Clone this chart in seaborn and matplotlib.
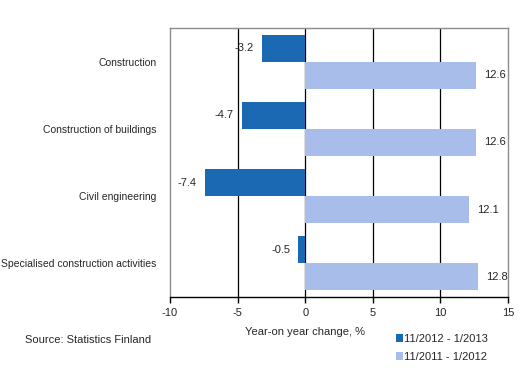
import pandas as pd
import numpy as np
import matplotlib
matplotlib.use('Agg')
import matplotlib.pyplot as plt
import seaborn as sns

# data
categories = ['Construction', 'Construction of buildings', 'Civil engineering',
              'Specialised construction activities']
series_names = ['11/2012 - 1/2013', '11/2011 - 1/2012']
recent = [-3.2, -4.7, -7.4, -0.5]
previous = [12.6, 12.6, 12.1, 12.8]
xticks = [-10, -5, 0, 5, 10, 15]

df = pd.DataFrame({
    'category': categories * 2,
    'period': [series_names[0]] * 4 + [series_names[1]] * 4,
    'change': recent + previous,
})

sns.set_style('white')
plt.rcParams['font.family'] = ['Liberation Sans', 'DejaVu Sans']
plt.rcParams['font.size'] = 8

fig = plt.figure(figsize=(5.28, 3.8), dpi=100)
ax = fig.add_axes([170 / 528, 1 - 297 / 380, 338 / 528, 269 / 380])

palette = ['#1c69b3', '#a8bdea']
sns.barplot(data=df, y='category', x='change', hue='period', order=categories,
            hue_order=series_names, palette=palette, orient='h', width=0.8,
            saturation=1, linewidth=0, ax=ax, zorder=3)

for cont in ax.containers:
    ax.bar_label(cont, fmt='%.1f', padding=6, fontsize=8)

ax.set_xlim(-10, 15)
ax.set_xticks(xticks)
ax.set_xticklabels([str(t) for t in xticks])
for t in [-5, 0, 5, 10]:
    ax.axvline(t, color='black', linewidth=0.9, zorder=1)

for side in ['left', 'top', 'right']:
    ax.spines[side].set_color('#8c8c8c')
    ax.spines[side].set_linewidth(1)
ax.spines['bottom'].set_color('black')
ax.spines['bottom'].set_linewidth(1)

ax.tick_params(axis='x', bottom=True, length=4, width=1, color='black', pad=4, labelsize=8)
ax.tick_params(axis='y', left=False, pad=6, labelsize=7.5)
ax.set_ylabel('')
ax.set_xlabel('Year-on year change, %', fontsize=8)
ax.xaxis.set_label_coords((305 - 170) / 338, -0.11)

handles, labels = ax.get_legend_handles_labels()
ax.get_legend().remove()
fig.legend(handles, labels, loc='upper left', bbox_to_anchor=(390 / 528, 1 - 328 / 380),
           frameon=False, fontsize=8, handlelength=0.7, handleheight=0.7,
           handletextpad=0.1, labelspacing=0.75, borderpad=0)

fig.text(25 / 528, 1 - 340 / 380, 'Source: Statistics Finland', fontsize=8, va='center')

fig.savefig('out.png', dpi=100)
